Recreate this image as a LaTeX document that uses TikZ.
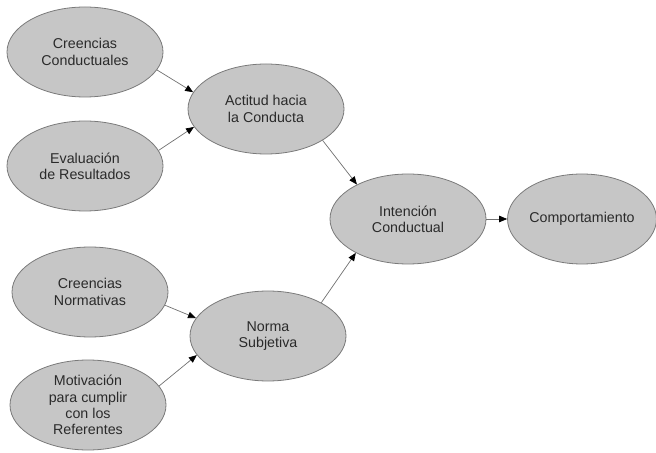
\documentclass[tikz,border=0pt]{standalone}
\usepackage{fontspec}
\setmainfont{Liberation Sans}
\usetikzlibrary{shapes.geometric,arrows.meta}
\definecolor{ellfill}{HTML}{C6C6C6}
\definecolor{ellline}{HTML}{7A7A7A}
\definecolor{txt}{HTML}{2A2A2A}
\definecolor{conn}{HTML}{707070}
\tikzset{
  ell/.style={ellipse, draw=ellline, fill=ellfill, line width=0.8bp, inner sep=0pt,
    minimum width=156bp, minimum height=90bp, align=center, text=txt,
    font=\fontsize{14.3}{16.4}\selectfont},
  arr/.style={draw=conn, line width=0.7bp, -{Triangle[length=8bp,width=6.5bp,fill=black,color=black]}}
}
\begin{document}
\begin{tikzpicture}[x=1bp,y=-1bp]
\useasboundingbox (0,0) rectangle (656,453);
\node[ell] (cc)  at (85,52)   {Creencias\\Conductuales};
\node[ell] (er)  at (85,166)  {Evaluación\\de Resultados};
\node[ell] (act) at (266,109) {Actitud hacia\\la Conducta};
\node[ell] (int) at (408,219) {Intención\\Conductual};
\node[ell, minimum width=147bp] (com) at (582,219) {Comportamiento};
\node[ell] (cn)  at (90,292)  {Creencias\\Normativas};
\node[ell] (ns)  at (268,336) {Norma\\Subjetiva};
\node[ell] (mot) at (88,405)  {Motivación\\para cumplir\\con los\\Referentes};
\draw[arr] (cc.-14) -- (act.167);
\draw[arr] (er.12) -- (act.-166);
\draw[arr] (act.-29) -- (int.146);
\draw[arr] (cn.-10) -- (ns.166);
\draw[arr] (mot.15) -- (ns.-165);
\draw[arr] (ns.32) -- (int.-147);
\draw[arr] (int.east) -- (com.west);
\end{tikzpicture}
\end{document}
